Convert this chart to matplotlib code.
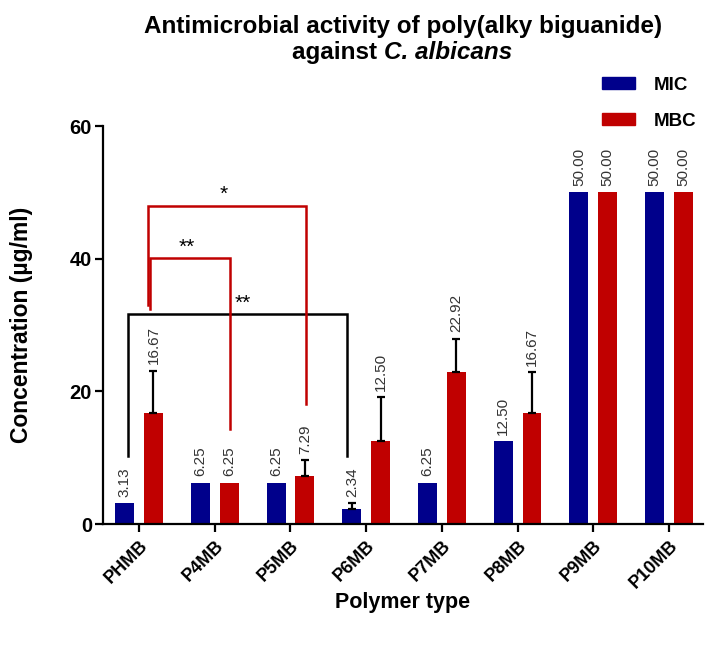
import matplotlib
matplotlib.use('Agg')
import matplotlib.pyplot as plt
from matplotlib.patches import Patch
import numpy as np

plt.rcParams['font.family'] = ['Liberation Sans', 'DejaVu Sans']

# data
polymers = ['PHMB', 'P4MB', 'P5MB', 'P6MB', 'P7MB', 'P8MB', 'P9MB', 'P10MB']
mic = [3.13, 6.25, 6.25, 2.34, 6.25, 12.50, 50.00, 50.00]
mbc = [16.67, 6.25, 7.29, 12.50, 22.92, 16.67, 50.00, 50.00]
mic_err = [0, 0, 0, 0.8, 0, 0, 0, 0]
mbc_err = [6.4, 0, 2.3, 6.6, 5.0, 6.2, 0, 0]

# significance brackets: x left, x right, y left end, y top, y right end, label, colour
brackets = [
    (-0.15, 2.75, 10.3, 31.7, 10.3, '**', 'black'),
    (0.15, 1.20, 32.4, 40.1, 14.3, '**', '#c00000'),
    (0.12, 2.21, 33.0, 48.0, 18.1, '*', '#c00000'),
]
star_pos = [(1.37, 31.9), (0.63, 40.3), (1.12, 48.2)]

c_mic = '#00008b'
c_mbc = '#c00000'

fig = plt.figure(figsize=(7.18, 6.51), dpi=100)
ax = fig.add_axes([0.1435, 0.195, 0.8357, 0.6114])

x = np.arange(len(polymers))
w = 0.25
off = 0.19

ax.bar(x - off, mic, w, color=c_mic, zorder=2)
ax.bar(x + off, mbc, w, color=c_mbc, zorder=2)

# upward-only error bars
for xs, vals, errs in [(x - off, mic, mic_err), (x + off, mbc, mbc_err)]:
    for xi, v, e in zip(xs, vals, errs):
        if e > 0:
            ax.errorbar(xi, v, yerr=[[0], [e]], fmt='none', ecolor='black',
                        elinewidth=1.6, capsize=3, capthick=1.6, zorder=3)
        ax.text(xi, v + e + 1.0, f'{v:.2f}', rotation=90, ha='center', va='bottom',
                fontsize=11, color='#333333', clip_on=False)

for (x1, x2, yl, yt, yr, lab, col), (sx, sy) in zip(brackets, star_pos):
    ax.plot([x1, x1, x2, x2], [yl, yt, yt, yr], color=col, lw=1.8, zorder=4,
            solid_joinstyle='miter', clip_on=False)
    ax.text(sx, sy, lab, ha='center', va='bottom', fontsize=15, color='black')

ax.set_xlim(-0.476, 7.45)
ax.set_ylim(0, 60)
ax.set_yticks([0, 20, 40, 60])
ax.set_xticks(x)
ax.set_xticklabels(polymers, rotation=45, ha='right', rotation_mode='anchor',
                   fontsize=13, fontweight='bold')
for t in ax.get_yticklabels():
    t.set_fontsize(14.5)
    t.set_fontweight('bold')

for s in ['top', 'right']:
    ax.spines[s].set_visible(False)
for s in ['left', 'bottom']:
    ax.spines[s].set_linewidth(1.6)
ax.tick_params(axis='both', width=1.6, length=6, direction='out')
ax.tick_params(axis='y', pad=2)

ax.set_ylabel('Concentration (µg/ml)', fontsize=16.5, fontweight='bold', labelpad=26)
ax.set_xlabel('Polymer type', fontsize=15.5, fontweight='bold', labelpad=0)

fig.text(0.562, 0.96, 'Antimicrobial activity of poly(alky biguanide)', ha='center',
         va='center', fontsize=17.5, fontweight='bold')
fig.text(0.535, 0.92, 'against ', ha='right', va='center', fontsize=17.5, fontweight='bold')
fig.text(0.535, 0.92, 'C. albicans', ha='left', va='center', fontsize=17.5,
         fontweight='bold', style='italic')

handles = [Patch(color=c_mic, label='MIC'), Patch(color=c_mbc, label='MBC')]
leg = fig.legend(handles=handles, loc='upper left', bbox_to_anchor=(0.815, 0.908),
                 frameon=False, handlelength=1.75, handleheight=0.55, labelspacing=1.0,
                 handletextpad=1.0, prop={'size': 13.5, 'weight': 'bold'})

fig.savefig('out.png', dpi=100)
